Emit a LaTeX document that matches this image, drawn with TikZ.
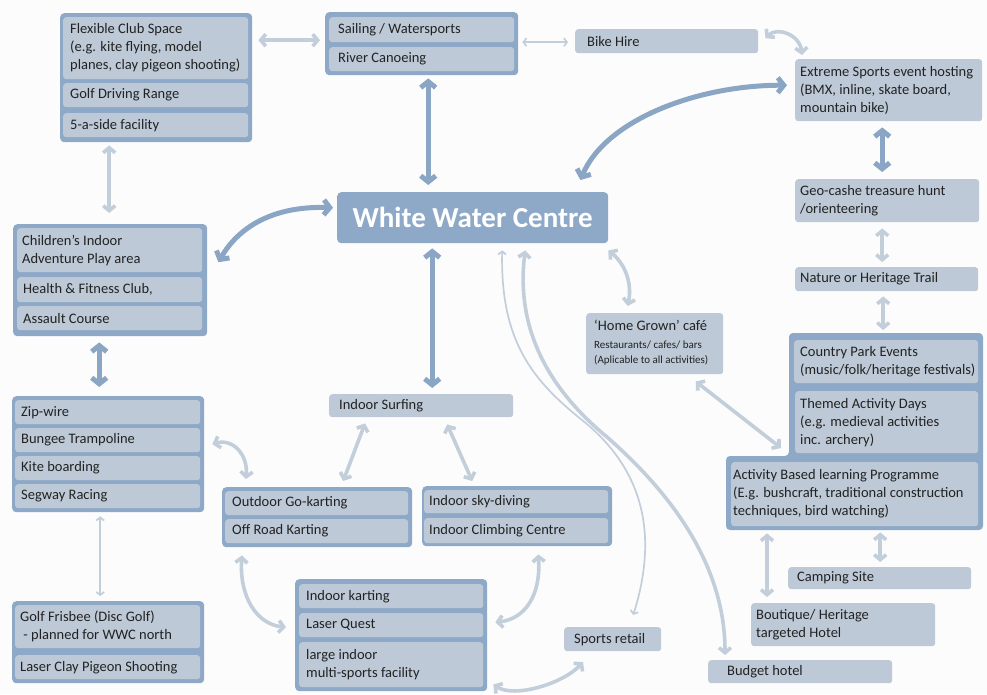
\documentclass[tikz,border=0pt]{standalone}
\usepackage{fontspec}
\setmainfont{Carlito}
\usetikzlibrary{arrows.meta,calc}
\definecolor{cBg}{HTML}{FCFCFC}
\definecolor{cFrame}{HTML}{8DA9C7}
\definecolor{cBox}{HTML}{BDC9D7}
\definecolor{cDark}{HTML}{8AA6C4}
\definecolor{cLight}{HTML}{C3CEDB}
\definecolor{cText}{HTML}{222222}
\tikzset{
  ib/.style={fill=cBox, rounded corners=3pt, anchor=north west, inner sep=0pt},
  fr/.style={fill=cFrame, rounded corners=4pt, anchor=north west, inner sep=0pt},
  tx/.style={anchor=west, align=left, inner sep=0pt, text=cText, font=\fontsize{14.5}{18}\selectfont},
  darrow/.style={draw=cDark, line width=5pt, arrows={Straight Barb[length=6pt,width=15pt]-Straight Barb[length=6pt,width=15pt]}},
  larrow/.style={draw=cLight, line width=3.6pt, arrows={Straight Barb[length=5pt,width=12pt]-Straight Barb[length=5pt,width=12pt]}},
  tarrow/.style={draw=cLight, line width=1.7pt, arrows={Straight Barb[length=3pt,width=8pt]-Straight Barb[length=3pt,width=8pt]}},
}
\newcommand\bx[7][6]{%
  \node[ib, minimum width=#5pt, minimum height=#6pt] (#2) at (#3,#4) {};
  \node[tx] (#2t) at ($(#2.west)+(#1,0)$) {#7};}
\newcommand\grp[5]{%
  \node[fr, minimum width=#4pt, minimum height=#5pt] (#1) at (#2,#3) {};}
\begin{document}
\begin{tikzpicture}[x=1pt,y=-1pt]
\fill[cBg] (0,0) rectangle (987,694);
\useasboundingbox (0,0) rectangle (987,694);

% group frames
\grp{fA}{60}{13}{192}{129}
\grp{fB}{325}{12}{193}{63}
\grp{fC}{13}{224}{194}{112}
\grp{fD}{12}{396}{192}{116}
\grp{fE}{12}{601}{192}{82}
\grp{fF}{222}{487}{190}{60}
\grp{fG}{422}{486}{190}{60}
\grp{fH}{295}{579}{192}{112}
\fill[cFrame, rounded corners=4pt] (789,333) -- (983,333) -- (983,530) -- (726,530) -- (726,456) -- (789,456) -- cycle;

% boxes
\bx[7]{flex}{63}{17}{185}{62}{Flexible Club Space\\(e.g. kite flying, model\\planes, clay pigeon shooting)}
\bx[7]{golfdr}{63}{83}{185}{24}{Golf Driving Range}
\bx[7]{five}{63}{113}{185}{24}{5-a-side facility}
\bx[9]{sail}{329}{17}{185}{25}{Sailing / Watersports}
\bx[9]{canoe}{329}{47}{185}{24}{River Canoeing}
\bx[12]{bike}{575}{29}{183}{24}{Bike Hire}
\bx[5]{extreme}{795}{59}{187}{62}{Extreme Sports event hosting\\(BMX, inline, skate board,\\mountain bike)}
\bx[5]{geo}{795}{179}{184}{43}{Geo-cashe treasure hunt\\/orienteering}
\bx[5]{nature}{795}{267}{183}{24}{Nature or Heritage Trail}
\bx[6]{country}{794}{340}{184}{43}{Country Park Events\\(music/folk/heritage festivals)}
\bx[5]{themed}{795}{391}{183}{62}{Themed Activity Days\\(e.g. medieval activities\\inc. archery)}
\bx[2]{abl}{731}{462}{247}{64}{Activity Based learning Programme\\(E.g. bushcraft, traditional construction\\techniques, bird watching)}
\bx[9]{camp}{788}{567}{183}{22}{Camping Site}
\bx[5]{boutique}{751}{603}{184}{43}{Boutique/ Heritage\\targeted Hotel}
\bx[19]{budget}{708}{660}{184}{23}{Budget hotel}
\bx[10]{sports}{564}{627}{97}{24}{Sports retail}
\node[ib, minimum width=137pt, minimum height=61pt] (home) at (586,313) {};
\node[tx, anchor=north west] (homet) at ($(home.north west)+(8,7)$) {‘Home Grown’ café\\[0pt]{\fontsize{11}{14}\selectfont Restaurants/ cafes/ bars}\\[-3pt]{\fontsize{11}{14}\selectfont (Aplicable to all activities)}};
\node[fill=cFrame, rounded corners=4pt, anchor=north west, inner sep=0pt, minimum width=271pt, minimum height=51pt, text=white, font=\fontsize{29}{32}\bfseries\selectfont] (wwc) at (337,192) {White Water Centre};
\bx[5]{child}{17}{228}{185}{44}{Children’s Indoor\\Adventure Play area}
\bx[6]{health}{17}{277}{185}{25}{Health \& Fitness Club,}
\bx[6]{assault}{17}{306}{185}{24}{Assault Course}
\bx[6]{zip}{15}{400}{185}{24}{Zip-wire}
\bx[6]{bungee}{15}{428}{185}{24}{Bungee Trampoline}
\bx[6]{kite}{15}{456}{185}{24}{Kite boarding}
\bx[6]{segway}{15}{484}{185}{24}{Segway Racing}
\bx[5]{frisbee}{15}{605}{185}{43}{Golf Frisbee (Disc Golf)\\\ - planned for WWC north}
\bx[5]{laserclay}{15}{655}{185}{24}{Laser Clay Pigeon Shooting}
\bx[10]{surf}{329}{394}{184}{23}{Indoor Surfing}
\bx[7]{outgo}{225}{491}{183}{24}{Outdoor Go-karting}
\bx[7]{offroad}{225}{519}{183}{24}{Off Road Karting}
\bx[5]{sky}{424}{490}{184}{23}{Indoor sky-diving}
\bx[5]{climb}{424}{518}{184}{25}{Indoor Climbing Centre}
\bx[7]{ikart}{299}{584}{184}{24}{Indoor karting}
\bx[7]{laserq}{299}{613}{184}{24}{Laser Quest}
\bx[7]{multi}{299}{642}{184}{45}{large indoor\\multi-sports facility}

\coordinate (m1) at (582,420);
\coordinate (m2) at (607,437);

% connectors
\draw[larrow] ($(fA.east)+(6,-37.5)$) -- ($(fB.west)+(-5,-3.5)$);
\draw[larrow] ($(fA.south)+(-47,3)$) -- ($(fC.north)+(-1,-11)$);
\draw[tarrow] ($(fB.east)+(4,-1.5)$) -- ($(bike.west)+(-7,1)$);
\draw[larrow] ($(bike.east)+(7,-3)$) .. controls +(12,-12) and +(-2,-20) .. ($(extreme.north west)+(7,-4)$);
\draw[darrow] ($(extreme.south)+(-6.5,6)$) -- ($(geo.north)+(-5,-7)$);
\draw[larrow] ($(geo.south)+(-5,6)$) -- ($(nature.north)+(-4.5,-5)$);
\draw[larrow] ($(nature.south)+(-3.5,5)$) -- ($(country.north)+(-3,-10)$);
\draw[darrow] ($(wwc.north east)+(-28,-12)$) .. controls +(25,-60) and +(-90,0) .. ($(extreme.west)+(-8,-5)$);
\draw[darrow] ($(wwc.west)+(-4,-10)$) .. controls +(-60,-2) and +(20,-35) .. ($(fC.east)+(11,-18)$);
\draw[darrow] ($(wwc.north)+(-44.5,-7)$) -- ($(fB.south)+(6.5,3)$);
\draw[darrow] ($(wwc.south)+(-40.5,5)$) -- ($(surf.north)+(11,-6)$);
\draw[larrow] ($(wwc.south east)+(0,7)$) .. controls +(15,12) and +(5,-25) .. ($(home.north)+(-27,-7)$);
\draw[darrow] ($(fC.south)+(-11,6)$) -- ($(fD.north)+(-9,-9)$);
\draw[tarrow] ($(fD.south)+(-8,4)$) -- ($(fE.north)+(-8,-5)$);
\draw[larrow] ($(fD.east)+(8,-10)$) .. controls +(20,-6) and +(2,-25) .. ($(fF.north west)+(24,-8)$);
\draw[larrow] ($(surf.south west)+(36,6)$) -- ($(fF.north)+(26,-6)$);
\draw[larrow] ($(surf.south)+(26,7)$) -- ($(fG.north)+(-45,-5)$);
\draw[larrow] ($(fF.south west)+(20,8)$) .. controls +(-3,40) and +(-30,-3) .. ($(fH.west)+(-9,-8)$);
\draw[larrow] ($(fG.south)+(21,8)$) .. controls +(3,40) and +(30,-3) .. ($(fH.east)+(8,-13)$);
\draw[larrow] ($(fH.south east)+(6,-7)$) .. controls +(20,14) and +(-20,22) .. ($(sports.north west)+(19,35)$);
\draw[larrow] ($(home.south)+(41,7)$) -- ($(abl.north west)+(50,-14)$);
\draw[larrow] ($(abl.south west)+(36,7)$) -- ($(boutique.north west)+(16,-6)$);
\draw[larrow] ($(abl.south)+(25.5,6)$) -- ($(camp.north)+(0.5,-5)$);
\draw[tarrow] ($(wwc.south)+(29.5,7)$) .. controls +(-2,90) and +(-50,-40) .. (m1) .. controls +(50,40) and +(30,-95) .. ($(sports.north)+(20.5,-12)$);
\draw[larrow] ($(wwc.south)+(52.5,7)$) .. controls +(-10,80) and +(-57,-47) .. (m2) .. controls +(43,38) and +(0,-105) .. ($(budget.north west)+(17,-5)$);
\end{tikzpicture}
\end{document}
